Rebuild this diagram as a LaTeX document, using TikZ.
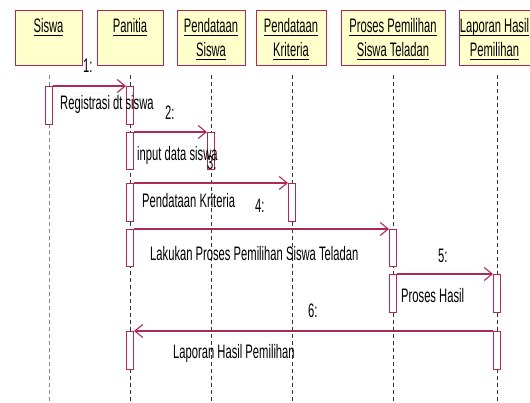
\documentclass[tikz,border=0pt]{standalone}
\usepackage{fontspec}
\setmainfont{Liberation Sans}[FakeStretch=0.575]
\usetikzlibrary{arrows.meta}
\definecolor{umlred}{RGB}{176,40,84}
\definecolor{umlfill}{RGB}{255,255,204}
% underlined object name with a fixed rule position
\newcommand\ulname[1]{\setbox0\hbox{#1}\rlap{\rule[-3pt]{\wd0}{0.9pt}}\box0}
\tikzset{
  objbox/.style={draw=umlred, fill=umlfill, line width=0.9pt, inner sep=0pt, minimum height=55pt},
  hdrtext/.style={anchor=base, inner sep=0pt, font=\fontsize{19.5}{22}\selectfont},
  lbl/.style={anchor=base west, inner sep=0pt, font=\fontsize{19.5}{22}\selectfont},
  lifeline/.style={draw=black!80, line width=0.8pt, dash pattern=on 4pt off 3pt},
  lifelinegrey/.style={draw=black!45, line width=0.8pt, dash pattern=on 4pt off 3pt},
  act/.style={draw=umlred, fill=white, line width=0.9pt, inner sep=0pt, minimum width=7pt, anchor=north},
  msg/.style={draw=umlred, line width=1.1pt, -{Straight Barb[length=8pt,width=13pt]}}
}
\begin{document}
\begin{tikzpicture}[x=1pt,y=-1pt]
\useasboundingbox[fill=white] (0,0) rectangle (530,403);

% object headers
\node[objbox, minimum width=67pt]  (siswa)   at (48.5,37.5) {};
\node[objbox, minimum width=66pt]  (panitia) at (130,37.5)  {};
\node[objbox, minimum width=68pt]  (psiswa)  at (211,37.5)  {};
\node[objbox, minimum width=70pt]  (pkrit)   at (291,37.5)  {};
\node[objbox, minimum width=104pt] (proses)  at (393,37.5)  {};
\node[objbox, minimum width=71pt]  (lapor)   at (494.5,37.5) {};

\node[hdrtext] at (48.5,33) {\ulname{Siswa}};
\node[hdrtext] at (130,33)  {\ulname{Panitia}};
\node[hdrtext] at (211,33)  {\ulname{Pendataan}};
\node[hdrtext] at (211,57)  {\ulname{Siswa}};
\node[hdrtext] at (291,33)  {\ulname{Pendataan}};
\node[hdrtext] at (291,57)  {\ulname{Kriteria}};
\node[hdrtext] at (393,33)  {\ulname{Proses Pemilihan}};
\node[hdrtext] at (393,57)  {\ulname{Siswa Teladan}};
\node[hdrtext] at (494.5,33) {\ulname{Laporan Hasil}};
\node[hdrtext] at (494.5,57) {\ulname{Pemilihan}};

% lifelines
\coordinate (t1) at (49,75);  \coordinate (b1) at (49,403);
\coordinate (t2) at (130,75); \coordinate (b2) at (130,403);
\coordinate (t3) at (211,75); \coordinate (b3) at (211,403);
\coordinate (t4) at (292,75); \coordinate (b4) at (292,403);
\coordinate (t5) at (393,75); \coordinate (b5) at (393,403);
\coordinate (t6) at (497,75); \coordinate (b6) at (497,403);
\draw[lifelinegrey] (t1) -- (b1);
\draw[lifeline] (t2) -- (b2);
\draw[lifeline] (t3) -- (b3);
\draw[lifeline] (t4) -- (b4);
\draw[lifeline] (t5) -- (b5);
\draw[lifeline] (t6) -- (b6);

% activations
\node[act, minimum height=38pt] (a1) at (49,86)  {};
\node[act, minimum height=38pt] (p1) at (130,86) {};
\node[act, minimum height=37pt] (p2) at (130,132) {};
\node[act, minimum height=37pt] (s1) at (211,132) {};
\node[act, minimum height=38pt] (p3) at (130,183) {};
\node[act, minimum height=38pt] (k1) at (292,183) {};
\node[act, minimum height=37pt] (p4) at (130,229) {};
\node[act, minimum height=37pt] (r1) at (393,229) {};
\node[act, minimum height=38pt] (r2) at (393,274) {};
\node[act, minimum height=38pt] (l1) at (497,274) {};
\node[act, minimum height=38pt] (p5) at (130,331) {};
\node[act, minimum height=38pt] (l2) at (497,331) {};

% messages
\draw[msg] (a1.north east) -- (p1.north west);
\draw[msg] (p2.north east) -- (s1.north west);
\draw[msg] (p3.north east) -- (k1.north west);
\draw[msg] (p4.north east) -- (r1.north west);
\draw[msg] (r2.north east) -- (l1.north west);
\draw[msg] (l2.north west) -- (p5.north east);

% message labels
\node[lbl] at (83,73)   {1:};
\node[lbl] at (60,110)  {Registrasi dt siswa};
\node[lbl] at (165,120) {2:};
\node[lbl] at (137,161) {input data siswa};
\node[lbl] at (207,170) {3:};
\node[lbl] at (142,208) {Pendataan Kriteria};
\node[lbl] at (255,213) {4:};
\node[lbl] at (150,261) {Lakukan Proses Pemilihan Siswa Teladan};
\node[lbl] at (438,263) {5:};
\node[lbl] at (401,303) {Proses Hasil};
\node[lbl] at (308,318) {6:};
\node[lbl] at (173,358) {Laporan Hasil Pemilihan};
\end{tikzpicture}
\end{document}
